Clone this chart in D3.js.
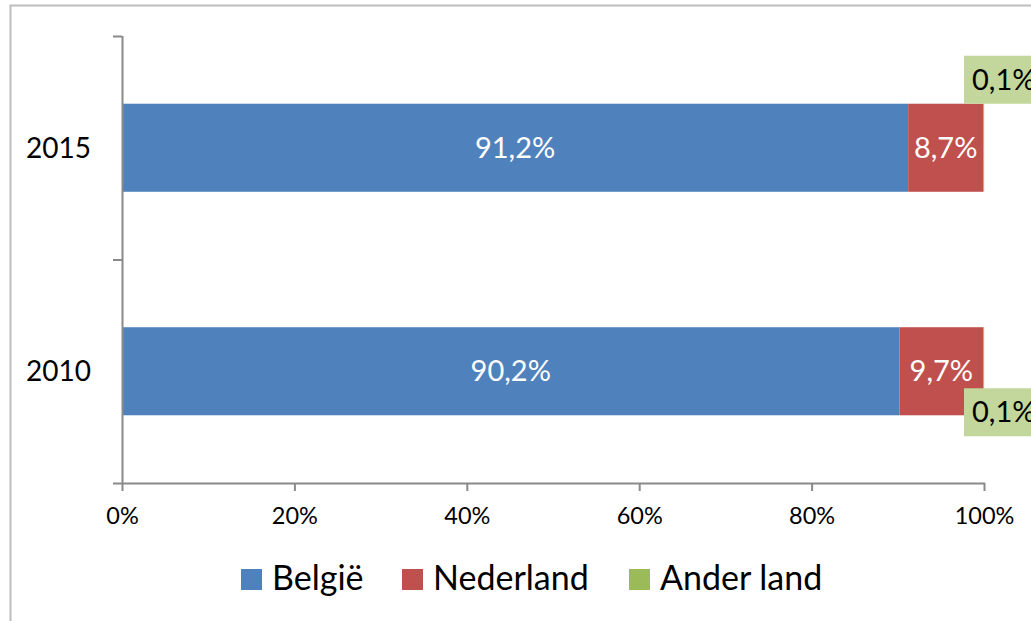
<!DOCTYPE html>
<html>
<head>
<meta charset="utf-8">
<script src="https://cdn.jsdelivr.net/npm/d3@7"></script>
<style>
  body { margin: 0; background: #fff; }
  svg { display: block; font-family: Lato, "Open Sans", sans-serif; }
</style>
</head>
<body>
<div id="chart"></div>
<script>
// data
var years = ["2015", "2010"];
var series = ["België", "Nederland", "Ander land"];
var belgie = [91.2, 90.2];
var nederland = [8.7, 9.7];
var anderLand = [0.1, 0.1];
var xTicks = [0, 0.2, 0.4, 0.6, 0.8, 1];
var colors = ["#4F81BD", "#C0504D", "#9BBB59"];

var width = 1031, height = 621;
var svg = d3.select("#chart").append("svg")
    .attr("width", width).attr("height", height);

// chart frame
svg.append("path")
    .attr("d", "M10.5," + height + "V5.5H" + width)
    .attr("fill", "none").attr("stroke", "#bdbdbd").attr("stroke-width", 2);

var x = d3.scaleLinear().domain([0, 1]).range([122, 984]);
var y = d3.scaleBand().domain(years).range([36, 483]);
var barH = y.bandwidth() * 0.394;

var rows = years.map(function(yr, i) {
    var vals = [belgie[i], nederland[i], anderLand[i]];
    var start = 0;
    return vals.map(function(v, j) {
        var seg = { year: yr, idx: j, value: v, x0: start / 100, x1: (start + v) / 100 };
        start += v;
        return seg;
    });
});
var segs = d3.merge(rows);
var fmt = function(v) { return d3.format(".1f")(v).replace(".", ",") + "%"; };

var g = svg.append("g");

g.selectAll("rect.bar")
    .data(segs)
    .enter().append("rect")
    .attr("class", "bar")
    .attr("x", function(d) { return x(d.x0); })
    .attr("width", function(d) { return Math.max(x(d.x1) - x(d.x0), 1); })
    .attr("y", function(d) { return y(d.year) + (y.bandwidth() - barH) / 2; })
    .attr("height", barH)
    .attr("fill", function(d) { return colors[d.idx]; });

// white labels inside blue and red
g.selectAll("text.in")
    .data(segs.filter(function(d) { return d.idx < 2; }))
    .enter().append("text")
    .attr("class", "in")
    .attr("x", function(d) { return (x(d.x0) + x(d.x1)) / 2; })
    .attr("y", function(d) { return y(d.year) + y.bandwidth() / 2; })
    .attr("dy", "0.35em")
    .attr("text-anchor", "middle")
    .attr("fill", "#fff")
    .style("font-size", "29px")
    .text(function(d) { return fmt(d.value); });

// green boxed labels for the small slice
var small = segs.filter(function(d) { return d.idx === 2; });
var boxW = 80, boxH = 48;
small.forEach(function(d, i) {
    var top = y(d.year) + (y.bandwidth() - barH) / 2;
    var by = i === 0 ? top - boxH : top + barH - 27;
    var bx = x(d.x1) - 20;
    g.append("rect")
        .attr("x", bx).attr("y", by)
        .attr("width", boxW).attr("height", boxH)
        .attr("fill", "#C3D69B");
    g.append("text")
        .attr("x", bx + 8).attr("y", by + boxH / 2)
        .attr("dy", "0.35em")
        .attr("fill", "#000")
        .style("font-size", "29px")
        .text(fmt(d.value));
});

// axes
var axisColor = "#898989";
var yAxis = svg.append("g");
yAxis.append("line")
    .attr("x1", 122.5).attr("x2", 122.5)
    .attr("y1", 36).attr("y2", 484)
    .attr("stroke", axisColor).attr("stroke-width", 2);
var yTickPos = [y.range()[0], y(years[1]), y.range()[1]];
yAxis.selectAll("line.t")
    .data(yTickPos)
    .enter().append("line")
    .attr("class", "t")
    .attr("x1", 113).attr("x2", 122)
    .attr("y1", function(d) { return d + 0.5; })
    .attr("y2", function(d) { return d + 0.5; })
    .attr("stroke", axisColor).attr("stroke-width", 2);
yAxis.selectAll("text")
    .data(years)
    .enter().append("text")
    .attr("x", 91)
    .attr("y", function(d) { return y(d) + y.bandwidth() / 2; })
    .attr("dy", "0.35em")
    .attr("text-anchor", "end")
    .attr("fill", "#000")
    .style("font-size", "28px")
    .text(function(d) { return d; });

var xAxis = svg.append("g").attr("transform", "translate(0,483)")
    .call(d3.axisBottom(x).tickValues(xTicks).tickSize(8).tickPadding(16)
        .tickFormat(d3.format(".0%")));
xAxis.select(".domain").remove();
xAxis.append("line")
    .attr("x1", 122).attr("x2", 985)
    .attr("y1", 0.5).attr("y2", 0.5)
    .attr("stroke", axisColor).attr("stroke-width", 2);
xAxis.selectAll(".tick line").attr("stroke", axisColor).attr("stroke-width", 2);
xAxis.selectAll(".tick text").attr("fill", "#000").style("font-size", "23.5px")
    .style("font-family", "Lato, 'Open Sans', sans-serif");

// legend
var legendX = [241, 402, 629];
var legend = svg.append("g").selectAll("g")
    .data(series)
    .enter().append("g")
    .attr("transform", function(d, i) { return "translate(" + legendX[i] + ",569)"; });
legend.append("rect")
    .attr("width", 21).attr("height", 21)
    .attr("fill", function(d, i) { return colors[i]; });
legend.append("text")
    .attr("x", 31).attr("y", 21)
    .attr("fill", "#000")
    .style("font-size", "34px")
    .text(function(d) { return d; });
</script>
</body>
</html>
